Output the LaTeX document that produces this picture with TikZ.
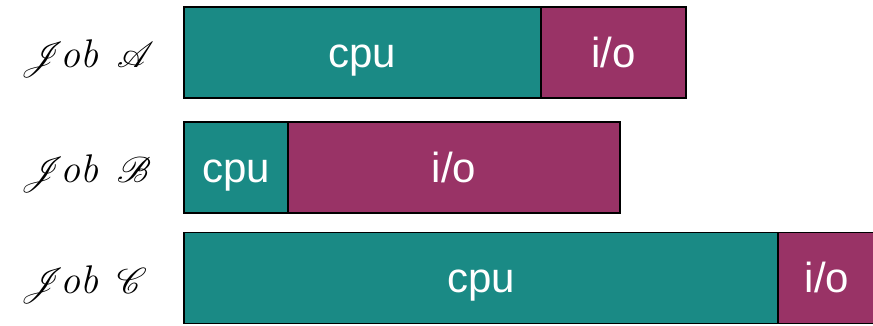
\documentclass[tikz,border=0pt]{standalone}
\usepackage{fontspec}
\usepackage{mathrsfs}
\usetikzlibrary{positioning}
\newfontfamily\barfont{Liberation Sans}
\definecolor{cputeal}{HTML}{1A8A85}
\definecolor{iomagenta}{HTML}{993366}
\newcommand{\joblabel}[1]{\scalebox{3.6}{$\mathscr{J}$}\kern-4pt{\fontsize{40}{40}\selectfont\itshape ob}\kern18pt\scalebox{3.6}{$\mathscr{#1}$}}
\tikzset{
  phase/.style={draw=black,line width=1.3pt,minimum height=91pt,inner sep=0pt,outer sep=0pt,
    text=white,text height=29pt,text depth=0pt,font=\barfont\fontsize{42}{46}\selectfont},
  cpu/.style={phase,fill=cputeal},
  io/.style={phase,fill=iomagenta},
  job/.style={anchor=base west,inner sep=0pt}
}
\begin{document}
\begin{tikzpicture}[x=1pt,y=1pt]
  \useasboundingbox (0,0) rectangle (873,325);

  % row A
  \node[cpu,minimum width=357pt,anchor=west] (cpuA) at (184,272.5) {cpu};
  \node[io,minimum width=145pt,right=0pt of cpuA] (ioA) {i/o};
  % row B
  \node[cpu,minimum width=104pt,anchor=west] (cpuB) at (184,157.5) {cpu};
  \node[io,minimum width=332pt,right=0pt of cpuB] (ioB) {i/o};
  % row C
  \node[cpu,minimum width=594pt,anchor=west] (cpuC) at (184,47) {cpu};
  \node[io,minimum width=98pt,right=0pt of cpuC] (ioC) {i/o};

  % labels
  \node[job] (jobA) at (20,258) {\joblabel{A}};
  \node[job] (jobB) at (20,143) {\joblabel{B}};
  \node[job] (jobC) at (20,32) {\joblabel{C}};
\end{tikzpicture}
\end{document}
